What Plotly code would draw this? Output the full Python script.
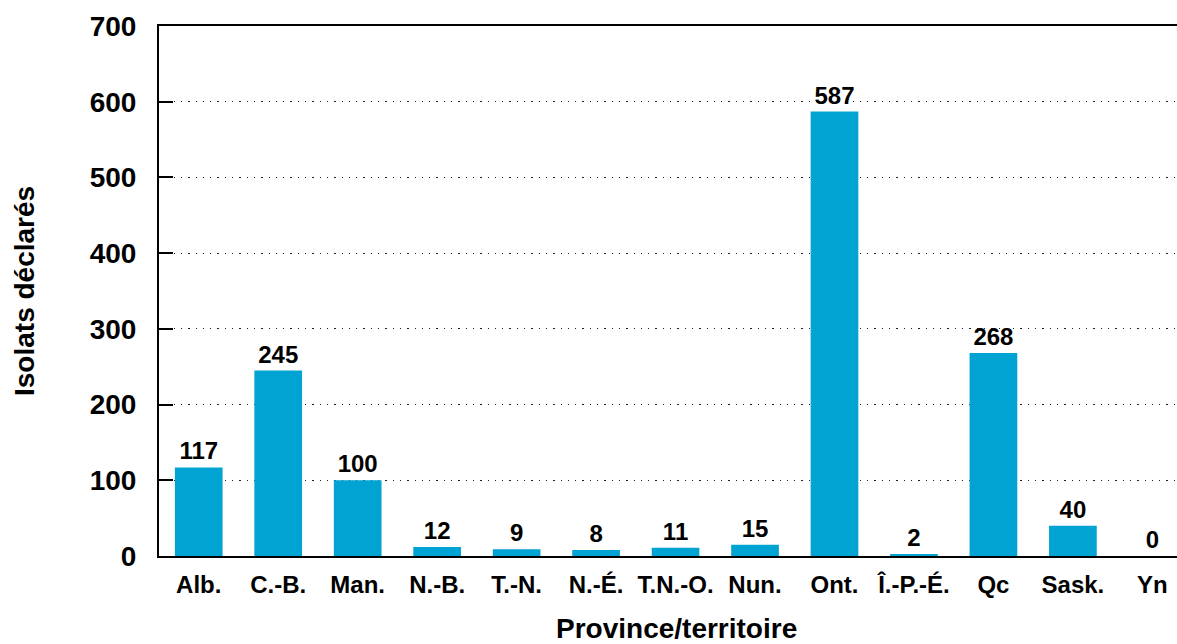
import plotly.graph_objects as go

categories = ["Alb.", "C.-B.", "Man.", "N.-B.", "T.-N.", "N.-É.", "T.N.-O.", "Nun.",
              "Ont.", "Î.-P.-É.", "Qc", "Sask.", "Yn"]
values = [117, 245, 100, 12, 9, 8, 11, 15, 587, 2, 268, 40, 0]
y_ticks = [0, 100, 200, 300, 400, 500, 600, 700]

FONT = "Liberation Sans, Arial, Helvetica, sans-serif"
BAR_COLOR = "#00A3D1"

fig = go.Figure(go.Bar(
    x=list(range(len(categories))),
    y=values,
    width=0.6,
    marker=dict(color=BAR_COLOR, line=dict(width=0)),
    text=[str(v) for v in values],
    textposition="outside",
    textfont=dict(family=FONT, size=24, color="black", weight="bold"),
    cliponaxis=False,
    hoverinfo="skip",
))

fig.update_layout(
    width=1177, height=644,
    margin=dict(l=159, r=0, t=26, b=88),
    paper_bgcolor="white", plot_bgcolor="white",
    showlegend=False,
    font=dict(family=FONT, color="black"),
    xaxis=dict(
        range=[-0.5, 12.31],
        tickmode="array",
        tickvals=list(range(len(categories))),
        ticktext=categories,
        tickfont=dict(family=FONT, size=24, color="black", weight="bold"),
        showline=True, linecolor="black", linewidth=2, mirror=True,
        showgrid=False, zeroline=False,
        ticks="", ticklabelstandoff=6,
    ),
    yaxis=dict(
        range=[0, 700],
        tickmode="array",
        tickvals=y_ticks,
        tickfont=dict(family=FONT, size=28, color="black", weight="bold"),
        showline=True, linecolor="black", linewidth=2,
        ticks="inside", ticklen=14, tickwidth=2, tickcolor="black",
        showgrid=True, gridcolor="#222222", gridwidth=1.3, griddash="1.3px,6px",
        zeroline=False, ticklabelstandoff=15,
    ),
    annotations=[
        dict(text="Province/territoire", xref="paper", yref="paper", x=0.5, y=0,
             xshift=8, yshift=-72, xanchor="center", yanchor="middle",
             showarrow=False, font=dict(family=FONT, size=28, color="black", weight="bold")),
        dict(text="Isolats déclarés", xref="paper", yref="paper", x=0, y=0.5,
             xshift=-135, yshift=0, xanchor="center", yanchor="middle", textangle=-90,
             showarrow=False, font=dict(family=FONT, size=28, color="black", weight="bold")),
    ],
)

fig.write_html(
    "out.html",
    config={"displayModeBar": False},
    post_script="document.body.style.margin='0';document.body.style.padding='0';document.body.style.overflow='hidden';",
)
